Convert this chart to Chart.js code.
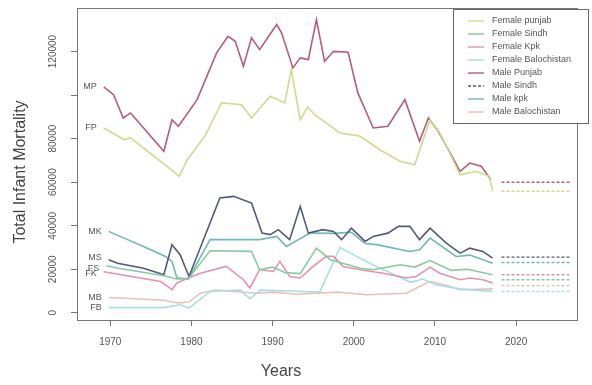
<!DOCTYPE html>
<html lang="en">
<head>
<meta charset="UTF-8">
<title>Total Infant Mortality</title>
<script src="https://cdn.jsdelivr.net/npm/chart.js"></script>
<style>
  html, body { margin: 0; padding: 0; background: #fff; }
  #wrap { width: 592px; height: 385px; }
</style>
</head>
<body>
<div id="wrap"><canvas id="mortalityChart"></canvas></div>
<script>
// values (years + totals per series)
const seriesNames = ['Female punjab', 'Female Sindh', 'Female Kpk', 'Female Balochistan',
                     'Male Punjab', 'Male Sindh', 'Male kpk', 'Male Balochistan'];
const seriesTags = ['FP', 'FS', 'FK', 'FB', 'MP', 'MS', 'MK', 'MB'];
const seriesColors = ['#cadd8c', '#86cba0', '#e592aa', '#a9dde4',
                      '#b45c79', '#4f5a78', '#72b8b2', '#e6c3b7'];

const fpYears = [1969.2, 1971.7, 1972.5, 1975.4, 1977, 1978.5, 1979.5, 1981.7, 1983.7, 1986.2, 1987.4, 1989.7, 1991.5, 1992.3, 1993.4, 1994.3, 1995.4, 1996.6, 1998.3, 2000.8, 2003.2, 2005.7, 2007.5, 2009.4, 2010.6, 2013.1, 2015.1, 2016.7, 2017.1];
const fpVals  = [84900, 79500, 80300, 71900, 67300, 62700, 70300, 81500, 96400, 95600, 89500, 99500, 96400, 111700, 88700, 94500, 90300, 87200, 82600, 81100, 74900, 69600, 68000, 88700, 82600, 63400, 65000, 62700, 55800];

const fsYears = [1969.5, 1971, 1976.6, 1978.2, 1979.6, 1982.3, 1987.4, 1988.4, 1990, 1991.5, 1993.4, 1995.4, 1997.1, 2000.8, 2002.4, 2005.7, 2007.5, 2009.4, 2012, 2014, 2017.1];
const fsVals  = [21600, 20500, 17000, 15500, 15500, 28500, 28200, 19800, 21000, 18500, 18000, 29700, 24400, 20500, 19800, 22100, 21000, 24000, 19500, 20000, 17500];

const fkYears = [1969.2, 1976.2, 1977.6, 1978.2, 1979.6, 1981.1, 1984.3, 1986.4, 1987.2, 1988.4, 1990.1, 1990.9, 1992.1, 1993.4, 1995, 1996.6, 1997.5, 1998.7, 2000.8, 2003.6, 2006.5, 2007.7, 2009.4, 2010.6, 2013.1, 2014.3, 2015.9, 2017.1];
const fkVals  = [18900, 14400, 10600, 13700, 16000, 18200, 21300, 15200, 11400, 19800, 19000, 23600, 16700, 16000, 21300, 25900, 25900, 21300, 19800, 18200, 16000, 16700, 21000, 18200, 15200, 16000, 15200, 13700];

const fbYears = [1969.8, 1976.6, 1978.6, 1979.7, 1982.3, 1986, 1987.2, 1988.5, 1992, 1995.8, 1998.3, 2000.8, 2002.4, 2005, 2007, 2008.5, 2010, 2013, 2017.1];
const fbVals  = [2400, 2400, 3700, 2200, 9800, 10500, 6500, 10500, 10000, 9500, 30000, 25000, 22000, 17500, 14000, 15500, 13000, 11000, 9800];

const mpYears = [1969.2, 1970.4, 1971.6, 1972.5, 1976.6, 1977.6, 1978.4, 1980.7, 1983.1, 1984.5, 1985.4, 1986.4, 1987.4, 1988.4, 1990.5, 1991.1, 1992.5, 1993.4, 1994.4, 1995.4, 1996.4, 1997.5, 1999.3, 2000.5, 2002.4, 2004.2, 2006.3, 2008.1, 2009.2, 2010.4, 2013.1, 2014.3, 2015.7, 2016.9];
const mpVals  = [103800, 100200, 89500, 91800, 74200, 88700, 85700, 97900, 119400, 127000, 124700, 113200, 126300, 120900, 132400, 128600, 112500, 117100, 116300, 134700, 115500, 120100, 119700, 101000, 84900, 85700, 97900, 78800, 89500, 83400, 65000, 68800, 67300, 61100];

const msYears = [1969.8, 1970.9, 1974.1, 1976.6, 1977.6, 1978.6, 1979.7, 1983.5, 1985.2, 1987.4, 1988.7, 1989.7, 1990.7, 1992.1, 1993.4, 1994.4, 1996.2, 1997.5, 1998.5, 1999.7, 2001.4, 2002.4, 2004.2, 2005.5, 2006.9, 2008.1, 2009.4, 2011.4, 2013.1, 2014.3, 2015.9, 2017.1];
const msVals  = [24400, 22800, 20500, 17500, 31300, 26700, 16700, 52700, 53500, 50400, 36600, 35900, 38200, 33600, 48900, 36600, 38200, 37400, 33600, 38900, 32800, 35100, 36600, 39700, 39700, 33600, 38900, 32000, 27400, 29700, 28200, 25100];

const mkYears = [1969.8, 1971.7, 1974.1, 1976.8, 1977.6, 1978.2, 1979.6, 1982.3, 1988.4, 1990.5, 1991.7, 1994.6, 1997.5, 1999.7, 2001.4, 2002.8, 2006.9, 2008.1, 2009.4, 2012.6, 2014.3, 2017.1];
const mkVals  = [37400, 34300, 30500, 25900, 23600, 16100, 15500, 33600, 33600, 35100, 30500, 36600, 36500, 37000, 31800, 31300, 28200, 29000, 34300, 25900, 26500, 22800];

const mbYears = [1969.8, 1976.6, 1978.3, 1979.7, 1981.1, 1983, 1988, 1990, 1993, 1998, 2001.6, 2006.5, 2008.1, 2009.4, 2011.9, 2013.1, 2017.1];
const mbVals  = [7000, 5800, 4500, 5000, 9000, 10500, 9000, 9500, 8500, 9500, 8300, 9000, 12100, 14500, 12100, 10600, 11000];

// flat dashed projections after the observed data
const projYears = [2018.2, 2026.8];
const projVals = [55800, 15200, 17500, 9800, 60000, 25600, 23100, 12400];

const xTicks = [1970, 1980, 1990, 2000, 2010, 2020];
const yTicks = [0, 20000, 40000, 60000, 80000, 100000, 120000];
const yTickLabels = ['0', '20000', '40000', '60000', '80000', '', '120000'];

const allYears = [fpYears, fsYears, fkYears, fbYears, mpYears, msYears, mkYears, mbYears];
const allVals = [fpVals, fsVals, fkVals, fbVals, mpVals, msVals, mkVals, mbVals];

const datasets = [];
seriesNames.forEach((name, i) => {
    datasets.push({
        label: name,
        data: allYears[i].map((yr, j) => ({ x: yr, y: allVals[i][j] })),
        borderColor: seriesColors[i],
        borderWidth: 1.6,
        pointRadius: 0,
        tension: 0,
        fill: false
    });
});
seriesNames.forEach((name, i) => {
    datasets.push({
        label: name + ' projection',
        data: projYears.map(yr => ({ x: yr, y: projVals[i] })),
        borderColor: seriesColors[i],
        borderWidth: 1.4,
        borderDash: [3, 2],
        pointRadius: 0,
        fill: false
    });
});

const axisGrey = '#777';
const textGrey = '#555';

// R-style extras: box, rotated y labels, titles, series tags, legend
const rStyle = {
    id: 'rStyle',
    afterDraw(chart) {
        const ctx = chart.ctx;
        const a = chart.chartArea;
        const xs = chart.scales.x, ys = chart.scales.y;
        ctx.save();
        ctx.strokeStyle = axisGrey;
        ctx.lineWidth = 1;
        ctx.strokeRect(a.left + 0.5, a.top + 0.5, a.right - a.left, a.bottom - a.top);

        // y tick labels, rotated like R
        ctx.fillStyle = textGrey;
        ctx.font = '10px "Liberation Sans", Arial, sans-serif';
        ctx.textAlign = 'center';
        ctx.textBaseline = 'middle';
        yTicks.forEach((v, i) => {
            const py = ys.getPixelForValue(v);
            ctx.save();
            ctx.translate(53, py);
            ctx.rotate(-Math.PI / 2);
            ctx.fillText(yTickLabels[i], 0, 0);
            ctx.restore();
        });

        // axis titles
        ctx.fillStyle = '#444';
        ctx.font = '16px "Liberation Sans", Arial, sans-serif';
        ctx.save();
        ctx.translate(21, 172);
        ctx.rotate(-Math.PI / 2);
        ctx.fillText('Total Infant Mortality', 0, 0);
        ctx.restore();
        ctx.fillText('Years', 281, 372);

        // series tags at the start of each line
        ctx.font = '9px "Liberation Sans", Arial, sans-serif';
        ctx.fillStyle = textGrey;
        ctx.textAlign = 'right';
        const tagOffsets = { FS: 3, FK: 2, MS: -2 };
        seriesTags.forEach((tag, i) => {
            const px = xs.getPixelForValue(allYears[i][0]) - 7;
            const py = ys.getPixelForValue(allVals[i][0]) + (tagOffsets[tag] || 0);
            ctx.fillText(tag, px, py);
        });

        // legend box
        const lx = 453, ly = 9, lw = 135, lh = 114;
        ctx.fillStyle = '#fff';
        ctx.fillRect(lx, ly, lw, lh);
        ctx.strokeStyle = '#666';
        ctx.strokeRect(lx + 0.5, ly + 0.5, lw, lh);
        ctx.font = '9px "Liberation Sans", Arial, sans-serif';
        ctx.textAlign = 'left';
        seriesNames.forEach((name, i) => {
            const ry = ly + 12 + i * 13;
            ctx.strokeStyle = seriesColors[i];
            ctx.lineWidth = 1.4;
            ctx.setLineDash(name === 'Male Sindh' ? [3, 2] : []);
            ctx.beginPath();
            ctx.moveTo(lx + 15, ry);
            ctx.lineTo(lx + 31, ry);
            ctx.stroke();
            ctx.setLineDash([]);
            ctx.fillStyle = textGrey;
            ctx.fillText(name, lx + 39, ry);
        });
        ctx.restore();
    }
};

const chart = new Chart(document.getElementById('mortalityChart'), {
    type: 'line',
    data: { datasets: datasets },
    plugins: [rStyle],
    options: {
        responsive: true,
        maintainAspectRatio: false,
        animation: false,
        layout: { padding: { top: 8, right: 15, left: 0, bottom: 0 } },
        plugins: {
            legend: { display: false },
            tooltip: { enabled: false }
        },
        scales: {
            x: {
                type: 'linear',
                min: 1965.9,
                max: 2027.5,
                afterBuildTicks: s => { s.ticks = xTicks.map(v => ({ value: v })); },
                afterFit: s => { s.height = 65; },
                grid: { drawOnChartArea: false, drawTicks: true, tickLength: 6, color: axisGrey },
                border: { display: true, color: axisGrey },
                ticks: {
                    color: textGrey,
                    font: { size: 10, family: '"Liberation Sans", Arial, sans-serif' },
                    padding: 10,
                    maxRotation: 0,
                    callback: v => String(v)
                }
            },
            y: {
                type: 'linear',
                min: -3300,
                max: 140000,
                afterBuildTicks: s => { s.ticks = yTicks.map(v => ({ value: v })); },
                afterFit: s => { s.width = 77; },
                grid: { drawOnChartArea: false, drawTicks: true, tickLength: 6, color: axisGrey },
                border: { display: true, color: axisGrey },
                ticks: { display: false }
            }
        }
    }
});
</script>
</body>
</html>
